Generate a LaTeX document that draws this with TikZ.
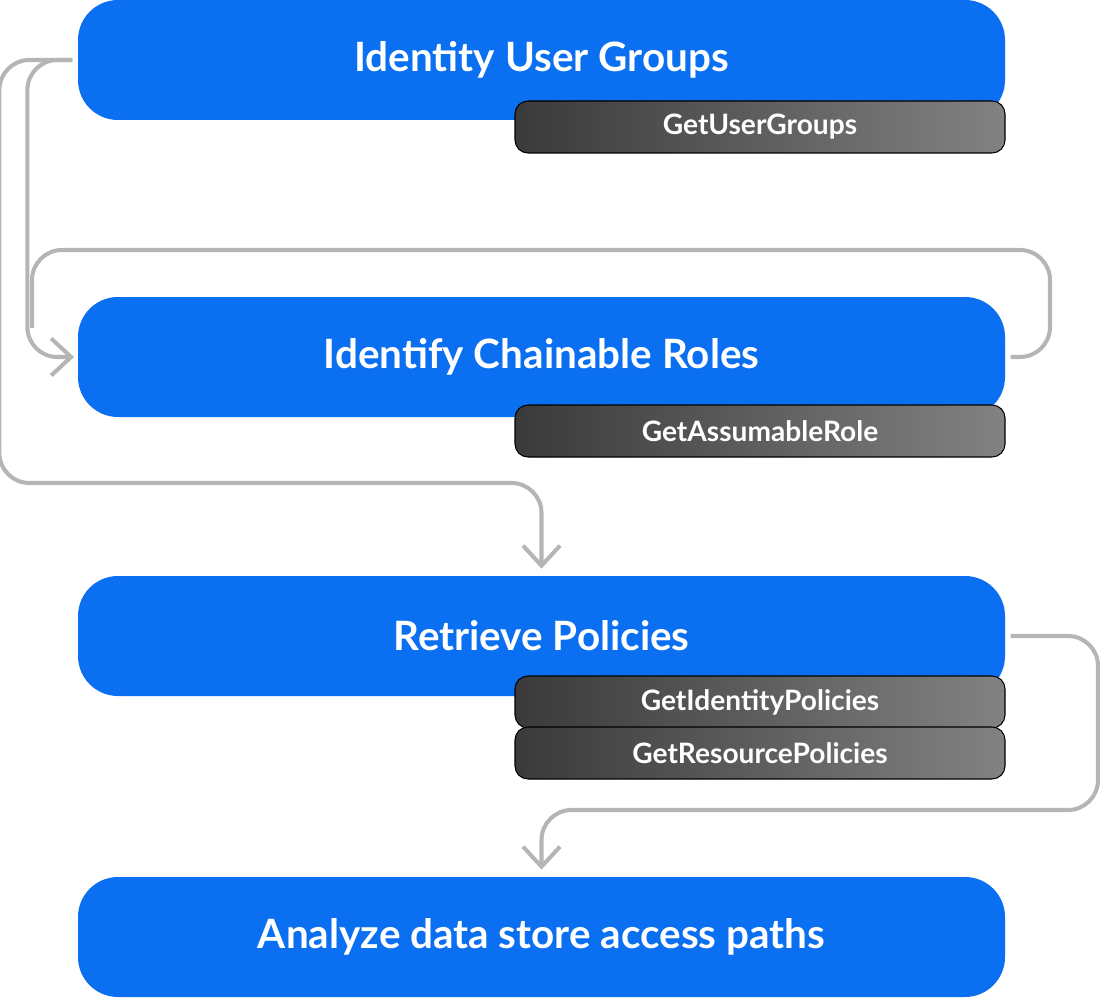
\documentclass[tikz,border=0pt]{standalone}
\usepackage{fontspec}
\setmainfont{Lato}
\usetikzlibrary{arrows.meta,positioning}

\definecolor{stepblue}{HTML}{0A6FF0}
\definecolor{tabdark}{HTML}{3A3A3A}
\definecolor{tablight}{HTML}{828282}
\definecolor{wire}{HTML}{B5B5B5}

\tikzset{
    stage/.style={fill=stepblue, text=white, rounded corners=0.8cm, minimum width=18.54cm,
        minimum height=2.4cm, font=\fontsize{23}{26}\selectfont\bfseries, inner sep=0pt},
    call/.style={draw=black, line width=0.6pt, left color=tabdark, right color=tablight, text=white,
        rounded corners=0.26cm, minimum width=9.8cm, minimum height=1.04cm,
        font=\fontsize{16}{18}\selectfont\bfseries, inner sep=0pt},
    flow/.style={draw=wire, line width=2.3pt, rounded corners=0.6cm,
        -{Straight Barb[length=0.4cm, width=0.74cm, line width=2.3pt]}},
    link/.style={draw=wire, line width=2.3pt, rounded corners=0.6cm}
}

\begin{document}
\begin{tikzpicture}
    \useasboundingbox (0,0) rectangle (22,19.96);

    % Steps
    \node[stage] (groups) at (10.83,18.76) {Identity User Groups};
    \node[stage] (roles) at (10.83,12.82) {Identify Chainable Roles};
    \node[stage] (policies) at (10.83,7.24) {Retrieve Policies};
    \node[stage] (analyze) at (10.83,1.22) {Analyze data store access paths};

    % API calls
    \node[call] (getgroups) at (15.2,17.42) {GetUserGroups};
    \node[call] (getroles) at (15.2,11.34) {GetAssumableRole};
    \node[call] (getident) at (15.2,5.92) {GetIdentityPolicies};
    \node[call] (getres) at (15.2,4.9) {GetResourcePolicies};

    % Connectors
    \coordinate (loop top) at (21.0,14.96);
    \coordinate (skip low) at (10.83,10.3);
    \coordinate (out turn) at (21.96,3.76);

    \draw[flow, shorten >=2pt] ([xshift=-3pt]groups.west) -- ++(-0.9,0) |- (roles.west);
    \draw[flow, shorten >=4pt] ([xshift=-3pt]groups.west) -- ++(-1.46,0) |- (skip low) -- (policies.north);
    \draw[link] ([xshift=3pt]roles.east) -| (loop top) -| (0.64,13.4);
    \draw[flow, shorten >=4pt] ([xshift=3pt]policies.east) -| (out turn) -| (analyze.north);

\end{tikzpicture}
\end{document}
